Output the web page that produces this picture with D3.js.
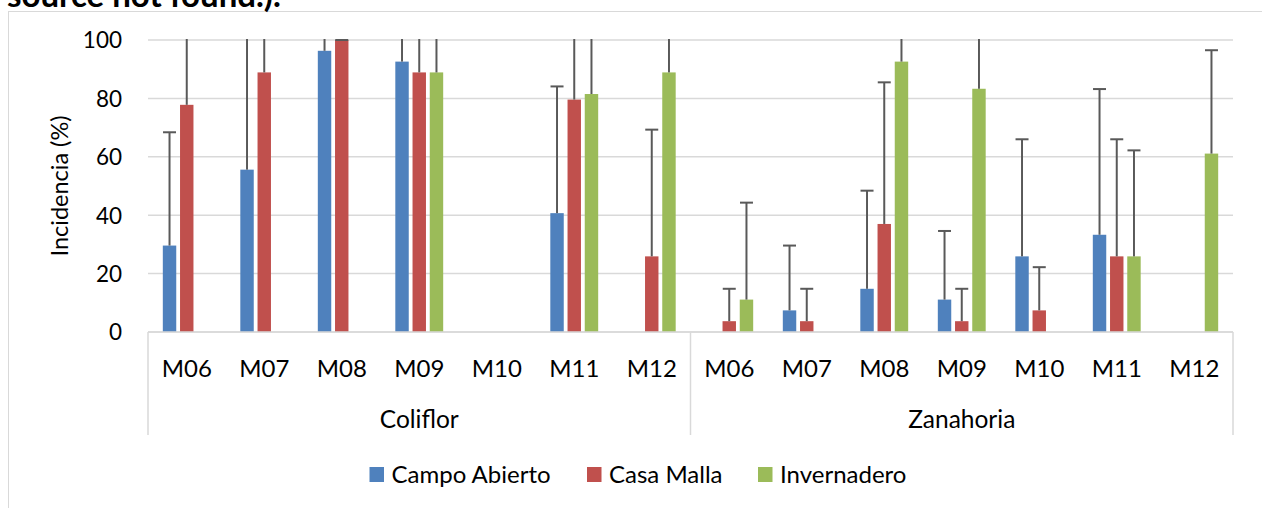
<!DOCTYPE html>
<html>
<head>
<meta charset="utf-8">
<script src="https://cdn.jsdelivr.net/npm/d3@7/dist/d3.min.js"></script>
<style>
  html, body { margin: 0; padding: 0; background: #fff; }
  svg { display: block; }
  text { font-family: Lato, "Noto Sans", sans-serif; fill: #000; }
</style>
</head>
<body>
<svg id="chart" width="1262" height="508"></svg>
<script>
// Crops and sampling months
const crops = ["Coliflor", "Zanahoria"];
const months = ["M06", "M07", "M08", "M09", "M10", "M11", "M12"];
const seriesNames = ["Campo Abierto", "Casa Malla", "Invernadero"];
const seriesColors = ["#4F81BD", "#C0504D", "#9BBB59"];

// Incidence (%) per crop × month: Coliflor M06–M12, then Zanahoria M06–M12
const campoAbierto = [29.6, 55.6, 96.3, 92.6, 0, 40.7, 0,
                      0, 7.4, 14.8, 11.1, 25.9, 33.3, 0];
const casaMalla    = [77.8, 88.9, 100, 88.9, 0, 79.6, 25.9,
                      3.7, 3.7, 37.0, 3.7, 7.4, 25.9, 0];
const invernadero  = [0, 0, 0, 88.9, 0, 81.5, 88.9,
                      11.1, 0, 92.6, 83.3, 0, 25.9, 61.1];

// Upper error amounts (same order)
const errCampoAbierto = [38.8, 50.0, 6.4, 10.0, 0, 43.4, 0,
                         0, 22.2, 33.6, 23.5, 40.1, 49.9, 0];
const errCasaMalla    = [38.5, 19.2, 0, 15.0, 0, 25.0, 43.4,
                         11.1, 11.1, 48.5, 11.1, 14.8, 40.1, 0];
const errInvernadero  = [0, 0, 0, 15.0, 0, 22.0, 15.0,
                         33.2, 0, 10.0, 20.0, 0, 36.3, 35.4];

const yTicks = [0, 20, 40, 60, 80, 100];
const yTitle = "Incidencia (%)";
const captionTail = "source not found.).";

const values = [campoAbierto, casaMalla, invernadero];
const errors = [errCampoAbierto, errCasaMalla, errInvernadero];

const svg = d3.select("#chart");

// Chart area frame
svg.append("rect")
  .attr("x", 8.5).attr("y", 11.5)
  .attr("width", 1260).attr("height", 520)
  .attr("fill", "#fff").attr("stroke", "#D9D9D9").attr("stroke-width", 1);

// Caption remnant above the chart
svg.append("text")
  .attr("x", 7).attr("y", 7)
  .attr("font-size", 33).attr("font-weight", "bold")
  .text(captionTail);

const plot = { left: 148, right: 1233, top: 40, bottom: 332 };

const keys = [];
crops.forEach(c => months.forEach(m => keys.push(c + "|" + m)));

const x0 = d3.scaleBand().domain(keys).range([plot.left, plot.right]).padding(0);
const x1 = d3.scaleBand().domain(seriesNames).range([0, x0.bandwidth()])
  .paddingInner(0.22).paddingOuter(0.86);
const y = d3.scaleLinear().domain([0, 100]).range([plot.bottom, plot.top]);

// Gridlines
svg.append("g").selectAll("line").data(yTicks).join("line")
  .attr("x1", plot.left).attr("x2", plot.right)
  .attr("y1", d => y(d)).attr("y2", d => y(d))
  .attr("stroke", "#D9D9D9").attr("stroke-width", 1.5);

// Y axis labels
const yAxis = d3.axisLeft(y).tickValues(yTicks).tickSize(0).tickPadding(0)
  .tickFormat(d3.format("d"));
const yg = svg.append("g").attr("transform", `translate(${122},0)`).call(yAxis);
yg.select(".domain").remove();
yg.selectAll("text")
  .attr("font-size", 22.5).attr("font-family", "Lato, 'Noto Sans', sans-serif")
  .attr("fill", "#000").attr("dy", "0.35em");

// Y axis title
svg.append("text")
  .attr("transform", `translate(68,${(plot.top + plot.bottom) / 2}) rotate(-90)`)
  .attr("text-anchor", "middle")
  .attr("font-size", 23.5)
  .text(yTitle);

// Clip marks to the plot area
svg.append("defs").append("clipPath").attr("id", "plotClip")
  .append("rect")
  .attr("x", plot.left).attr("y", plot.top - 1)
  .attr("width", plot.right - plot.left).attr("height", plot.bottom - plot.top + 1);

const marks = svg.append("g").attr("clip-path", "url(#plotClip)");

seriesNames.forEach((name, si) => {
  const g = marks.append("g");
  const data = keys.map((k, i) => ({ key: k, v: values[si][i], e: errors[si][i] }));

  g.selectAll("rect").data(data).join("rect")
    .attr("x", d => x0(d.key) + x1(name))
    .attr("width", x1.bandwidth())
    .attr("y", d => y(d.v))
    .attr("height", d => y(0) - y(d.v))
    .attr("fill", seriesColors[si]);

  const withErr = data.filter(d => d.v > 0);
  const cx = d => x0(d.key) + x1(name) + x1.bandwidth() / 2;

  g.selectAll("line.stem").data(withErr.filter(d => d.e > 0)).join("line")
    .attr("class", "stem")
    .attr("x1", cx).attr("x2", cx)
    .attr("y1", d => y(d.v)).attr("y2", d => y(d.v + d.e))
    .attr("stroke", "#595959").attr("stroke-width", 2);

  g.selectAll("line.cap").data(withErr.filter(d => d.v + d.e <= 100)).join("line")
    .attr("class", "cap")
    .attr("x1", d => cx(d) - 6.5).attr("x2", d => cx(d) + 6.5)
    .attr("y1", d => y(d.v + d.e)).attr("y2", d => y(d.v + d.e))
    .attr("stroke", "#595959").attr("stroke-width", 2);
});

// Category axis: baseline and group dividers
svg.append("line")
  .attr("x1", plot.left).attr("x2", plot.right)
  .attr("y1", plot.bottom).attr("y2", plot.bottom)
  .attr("stroke", "#D9D9D9").attr("stroke-width", 1.5);

const dividers = [keys[0], keys[months.length]].map(k => x0(k)).concat([plot.right]);
svg.append("g").selectAll("line").data(dividers).join("line")
  .attr("x1", d => d).attr("x2", d => d)
  .attr("y1", plot.bottom).attr("y2", 435)
  .attr("stroke", "#D9D9D9").attr("stroke-width", 1.5);

// Month labels
svg.append("g").selectAll("text").data(keys).join("text")
  .attr("x", d => x0(d) + x0.bandwidth() / 2)
  .attr("y", 368.5).attr("dy", "0.35em")
  .attr("text-anchor", "middle").attr("font-size", 24)
  .text(d => d.split("|")[1]);

// Crop labels
svg.append("g").selectAll("text").data(crops).join("text")
  .attr("x", (c, i) => {
    const a = x0(keys[i * months.length]);
    const b = x0(keys[i * months.length + months.length - 1]) + x0.bandwidth();
    return (a + b) / 2;
  })
  .attr("y", 419).attr("dy", "0.35em")
  .attr("text-anchor", "middle").attr("font-size", 24.5)
  .text(d => d);

// Legend
const legendX = [369.5, 587, 758];
const legend = svg.append("g").selectAll("g").data(seriesNames).join("g")
  .attr("transform", (d, i) => `translate(${legendX[i]},467)`);
legend.append("rect")
  .attr("width", 14.5).attr("height", 15)
  .attr("fill", (d, i) => seriesColors[i]);
legend.append("text")
  .attr("x", 22).attr("y", 7.5).attr("dy", "0.35em")
  .attr("font-size", 24)
  .text(d => d);
</script>
</body>
</html>
